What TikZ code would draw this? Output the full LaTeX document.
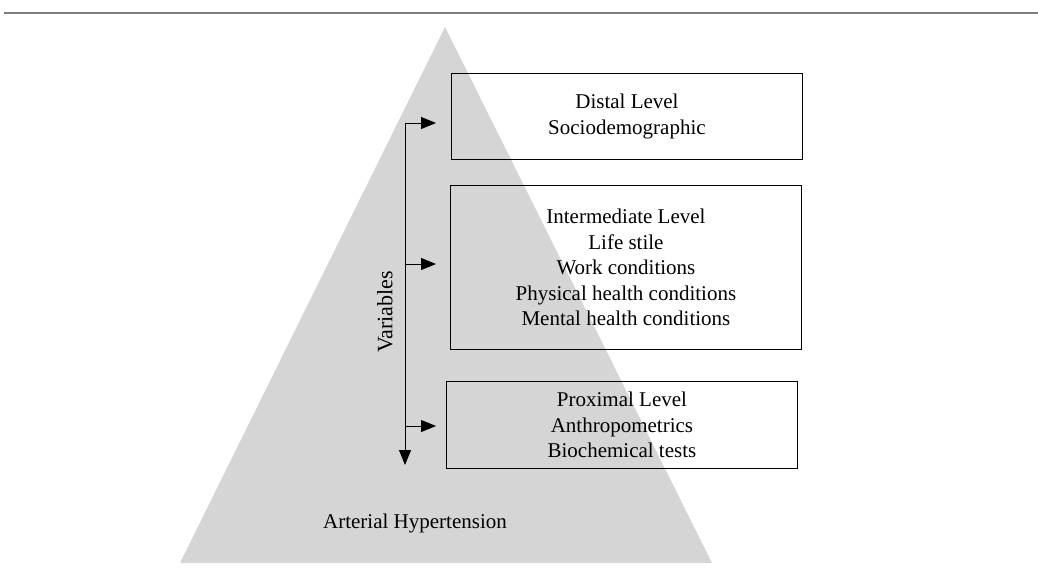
\documentclass[tikz,border=0pt]{standalone}
\usepackage{fontspec}
\setmainfont{Liberation Serif}
\usetikzlibrary{arrows.meta}
\definecolor{pyr}{RGB}{213,213,213}
\definecolor{rule}{RGB}{125,125,125}
\begin{document}
\begin{tikzpicture}[x=1pt,y=-1pt,
  levelbox/.style={draw=black,line width=0.9pt,anchor=north west,minimum width=351pt,
    align=center,inner sep=0pt,font=\fontsize{21}{25.5}\selectfont},
  lbl/.style={font=\fontsize{21}{25.5}\selectfont,inner sep=0pt},
  conn/.style={line width=0.9pt,-{Triangle[length=15pt,width=12pt]}}]
\useasboundingbox (0,0) rectangle (1038,574);
\draw[rule,line width=2pt] (4,13) -- (1038,13);
\fill[pyr] (445,27) -- (712,563) -- (180,563) -- cycle;
\node[levelbox,minimum height=86pt] (b1) at (451,73) {Distal Level\\Sociodemographic};
\node[levelbox,minimum height=164pt] (b2) at (450,185) {Intermediate Level\\Life stile\\Work conditions\\Physical health conditions\\Mental health conditions};
\node[levelbox,minimum height=87pt] (b3) at (446,381) {Proximal Level\\Anthropometrics\\Biochemical tests};
\coordinate (top) at (405,123);
\coordinate (bot) at (405,465);
\coordinate (m2) at (405,264);
\coordinate (m3) at (405,426);
\draw[conn] (top) -- (bot);
\draw[conn,shorten >=15pt] (top) -- (top -| b1.west);
\draw[conn,shorten >=14pt] (m2) -- (m2 -| b2.west);
\draw[conn,shorten >=10pt] (m3) -- (m3 -| b3.west);
\node[lbl,rotate=90,font=\fontsize{22}{26}\selectfont] (var) at (385,312) {Variables};
\node[lbl] (ah) at (415,523) {Arterial Hypertension};
\end{tikzpicture}
\end{document}
